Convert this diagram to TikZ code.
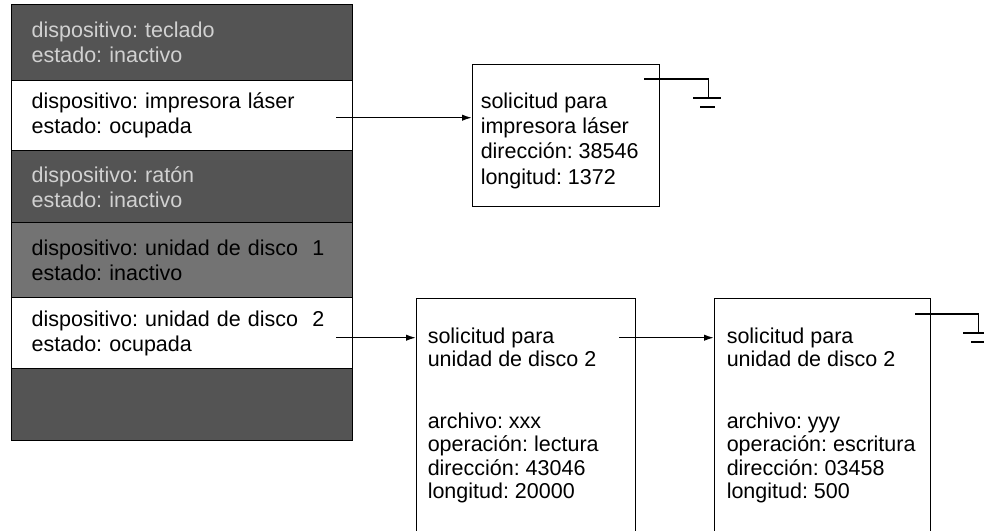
\documentclass[tikz,border=0pt]{standalone}
\usepackage{fontspec}
\setmainfont{Liberation Sans}
\usetikzlibrary{arrows.meta,calc}
\definecolor{rowdark}{gray}{0.33}
\definecolor{rowmid}{gray}{0.45}
\definecolor{rowtext}{gray}{0.82}
\frenchspacing
\begin{document}
\begin{tikzpicture}[x=1pt,y=-1pt,
  line width=1.5pt,
  tablerow/.style={draw, line width=1.4pt, anchor=north west, minimum width=341pt,
    text width=301pt, inner xsep=20pt, inner ysep=0pt, align=left,
    font=\fontsize{21.5}{25}\selectfont},
  greyrow/.style={tablerow, fill=rowdark, text=rowtext},
  midrow/.style={tablerow, fill=rowmid, text=black},
  reqbox/.style={draw, line width=1.4pt, anchor=north west, inner sep=0pt},
  reqtext/.style={anchor=north west, inner sep=0pt, align=left},
  arr/.style={-{Latex[length=10pt,width=6.5pt]}, line width=1.5pt},
  gnd/.style={line width=1.6pt}
]
\useasboundingbox (0,0) rectangle (984,530);

% device status table
\node[greyrow, minimum height=76pt] (r1) at (11,4) {dispositivo: teclado\\estado: inactivo};
\node[tablerow, minimum height=70pt] (r2) at (11,80) {dispositivo: impresora láser\\estado: ocupada};
\node[greyrow, minimum height=72pt] (r3) at (11,150) {dispositivo: ratón\\estado: inactivo};
\node[midrow, minimum height=75pt] (r4) at (11,222) {dispositivo: unidad de disco\ \ 1\\estado: inactivo};
\node[tablerow, minimum height=71pt] (r5) at (11,297) {dispositivo: unidad de disco\ \ 2\\estado: ocupada};
\node[greyrow, minimum height=72pt] (r6) at (11,368) {};

% request boxes
\node[reqbox, minimum width=187pt, minimum height=142pt] (box1) at (472,64) {};
\node[reqtext, font=\fontsize{21.5}{25.3}\selectfont] (t1) at (480,92)
  {solicitud para\\impresora láser\\dirección: 38546\\longitud: 1372};

\node[reqbox, minimum width=219pt, minimum height=233pt] (box2) at (416,298) {};
\node[reqtext, font=\fontsize{21.5}{23.3}\selectfont] (t2) at (427,327)
  {solicitud para\\unidad de disco 2\\[38.7pt]archivo: xxx\\operación: lectura\\dirección: 43046\\longitud: 20000};

\node[reqbox, minimum width=216pt, minimum height=233pt] (box3) at (714,298) {};
\node[reqtext, font=\fontsize{21.5}{23.3}\selectfont] (t3) at (726,327)
  {solicitud para\\unidad de disco 2\\[38.7pt]archivo: yyy\\operación: escritura\\dirección: 03458\\longitud: 500};

% pointers
\coordinate (s1) at ($(r2.east)+(-17,2)$);
\draw[arr] (s1) -- (s1 -| box1.west);
\coordinate (s2) at ($(r5.east)+(-17,4.5)$);
\draw[arr] (s2) -- (s2 -| box2.west);
\coordinate (s3) at ($(box2.east |- s2)+(-17,0)$);
\draw[arr] (s3) -- (s3 -| box3.west);

% null pointers (ground)
\coordinate (g1) at ($(box1.north east)+(-16,15)$);
\draw[gnd] (g1) -- ++(64,0) -- ++(0,19);
\draw[gnd] ($(g1)+(49,19)$) -- ++(28,0);
\draw[gnd] ($(g1)+(56,28)$) -- ++(15,0);

\coordinate (g3) at ($(box3.north east)+(-16,16)$);
\draw[gnd] (g3) -- ++(63,0) -- ++(0,19);
\draw[gnd] ($(g3)+(48,19)$) -- ++(30,0);
\draw[gnd] ($(g3)+(56,28)$) -- ++(14,0);
\end{tikzpicture}
\end{document}
